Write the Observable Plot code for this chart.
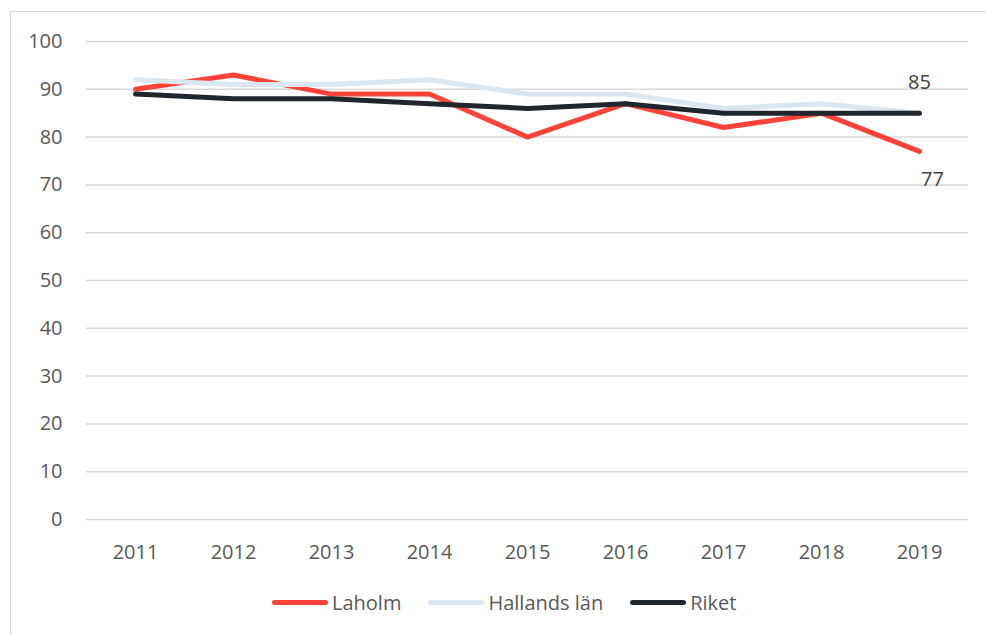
<!DOCTYPE html>
<html>
<head>
<meta charset="utf-8">
<script src="https://cdn.jsdelivr.net/npm/d3@7"></script>
<script src="https://cdn.jsdelivr.net/npm/@observablehq/plot@0.6"></script>
<style>
  html, body { margin: 0; padding: 0; background: #fff; }
  body { width: 986px; height: 635px; position: relative; overflow: hidden; font-family: "Open Sans", sans-serif; }
  #frame { position: absolute; left: 10px; top: 11px; width: 1000px; height: 700px; border-left: 1.5px solid #d9d9d9; border-top: 1.5px solid #d9d9d9; }
  #chart { position: absolute; left: 0; top: 0; }
  #legend { position: absolute; left: 272px; top: 589px; display: flex; align-items: center; font-size: 20px; color: #595959; }
  .item { display: flex; align-items: center; margin-right: 27px; }
  .sw { width: 56px; height: 5px; border-radius: 3px; margin-right: 4px; }
</style>
</head>
<body>
<div id="frame"></div>
<div id="chart"></div>
<div id="legend"></div>
<script>
const years = ["2011","2012","2013","2014","2015","2016","2017","2018","2019"];
const seriesNames = ["Laholm", "Hallands län", "Riket"];
const laholm   = [90, 93, 89, 89, 80, 87, 82, 85, 77];
const hallands = [92, 91, 91, 92, 89, 89, 86, 87, 85];
const riket    = [89, 88, 88, 87, 86, 87, 85, 85, 85];
const yTicks = [0, 10, 20, 30, 40, 50, 60, 70, 80, 90, 100];
const colors = ["#FF4338", "#DAE6F0", "#1F262D"];

const seriesValues = [laholm, hallands, riket];
const data = [];
seriesNames.forEach((s, i) => years.forEach((y, j) => data.push({series: s, year: y, value: seriesValues[i][j]})));

const last = years.length - 1;
const topLabel = [{year: years[last], value: riket[last], text: String(riket[last])}];
const bottomLabel = [{year: years[last], value: laholm[last], text: String(laholm[last])}];

const chart = Plot.plot({
  width: 986,
  height: 580,
  marginLeft: 86,
  marginRight: 18,
  marginTop: 41,
  marginBottom: 61,
  style: {fontFamily: "Open Sans, sans-serif", fontSize: "20px", color: "#595959", background: "transparent"},
  x: {type: "point", domain: years, padding: 0.5, label: null},
  y: {domain: [0, 100], label: null},
  color: {domain: seriesNames, range: colors},
  marks: [
    Plot.ruleY(yTicks, {stroke: "#d9d9d9", strokeWidth: 1.5}),
    Plot.axisY({ticks: yTicks, tickSize: 0, tickPadding: 24, label: null, fill: "#595959"}),
    Plot.axisX({tickSize: 0, tickPadding: 25, label: null, fill: "#595959"}),
    Plot.line(data, {x: "year", y: "value", z: "series", stroke: "series", strokeWidth: 5, strokeLinecap: "round", strokeLinejoin: "miter"}),
    Plot.text(topLabel, {x: "year", y: "value", text: "text", dy: -31, fill: "#404040", fontSize: 20}),
    Plot.text(bottomLabel, {x: "year", y: "value", text: "text", dx: 13, dy: 28, fill: "#404040", fontSize: 20})
  ]
});
document.getElementById("chart").appendChild(chart);

const legend = document.getElementById("legend");
seriesNames.forEach((s, i) => {
  const it = document.createElement("div");
  it.className = "item";
  const sw = document.createElement("div");
  sw.className = "sw";
  sw.style.background = colors[i];
  const t = document.createElement("span");
  t.textContent = s;
  it.appendChild(sw); it.appendChild(t);
  legend.appendChild(it);
});
</script>
</body>
</html>
